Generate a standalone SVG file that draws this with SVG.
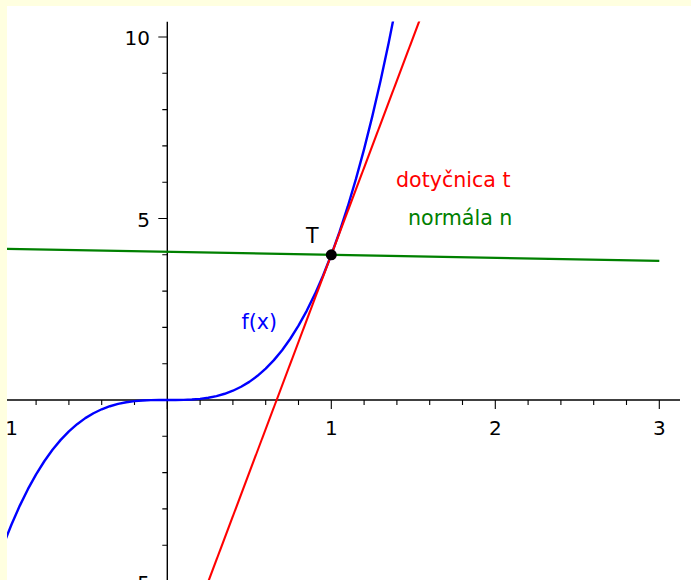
<svg xmlns="http://www.w3.org/2000/svg" width="691" height="580" viewBox="0 0 691 580">
  <style>
    text { font-family: "DejaVu Sans", "Liberation Sans", sans-serif; font-size: 20px; }
    .lbl { font-size: 20.6px; }
    .axis { stroke: #000; stroke-width: 1.4; fill: none; }
    .tick { stroke: #000; stroke-width: 1.1; fill: none; }
    .curve { fill: none; stroke-linejoin: round; stroke-linecap: butt; }
  </style>
  <defs>
    <clipPath id="fig">
      <rect x="7" y="6" width="684" height="574"/>
    </clipPath>
    <clipPath id="data">
      <rect x="7" y="21.5" width="684" height="560"/>
    </clipPath>
  </defs>

  <rect id="page" x="0" y="0" width="691" height="580" fill="#ffffe0"/>
  <rect id="figure" x="7" y="6" width="684" height="574" fill="#ffffff"/>

  <g clip-path="url(#fig)">
    <g id="axes">
      <line class="axis" x1="7" y1="400" x2="680" y2="400"/>
      <line class="axis" x1="167.3" y1="21.7" x2="167.3" y2="580"/>
      <path class="tick" d="M36.1 400v5M68.9 400v5M101.7 400v5M134.5 400v5M200.1 400v5M232.9 400v5M265.7 400v5M298.5 400v5M364.1 400v5M396.9 400v5M429.7 400v5M462.5 400v5M528.1 400v5M560.9 400v5M593.7 400v5M626.5 400v5"/>
      <path class="tick" d="M3.3 400v9M167.3 400v9M331.3 400v9M495.3 400v9M659.3 400v9"/>
      <path class="tick" d="M167.3 73.3h-5M167.3 109.6h-5M167.3 145.9h-5M167.3 182.2h-5M167.3 254.8h-5M167.3 291.1h-5M167.3 327.4h-5M167.3 363.7h-5M167.3 436.3h-5M167.3 472.6h-5M167.3 508.9h-5M167.3 545.2h-5"/>
      <path class="tick" d="M167.3 37h-9M167.3 218.5h-9M167.3 400h-9M167.3 581.5h-9"/>
      <g id="tick-labels">
        <text x="3.3" y="435" text-anchor="middle">−1</text>
        <text x="331.3" y="435" text-anchor="middle">1</text>
        <text x="495.3" y="435" text-anchor="middle">2</text>
        <text x="659.3" y="435" text-anchor="middle">3</text>
        <text x="150" y="45" text-anchor="end">10</text>
        <text x="150" y="226.5" text-anchor="end">5</text>
        <text x="150" y="589.5" text-anchor="end">−5</text>
      </g>
    </g>

    <g id="connectors" clip-path="url(#data)">
      <polyline id="f" class="curve" stroke="#0000ff" stroke-width="2.4" points="3.3,545.2 11.5,524.49 19.7,505.85 27.9,489.17 36.1,474.34 44.3,461.26 52.5,449.8 60.7,439.88 68.9,431.36 77.1,424.16 85.3,418.15 93.5,413.23 101.7,409.29 109.9,406.23 118.1,403.92 126.3,402.27 134.5,401.16 142.7,400.49 150.9,400.15 159.1,400.02 167.3,400 175.5,399.98 183.7,399.85 191.9,399.51 200.1,398.84 208.3,397.73 216.5,396.08 224.7,393.77 232.9,390.71 241.1,386.77 249.3,381.85 257.5,375.84 265.7,368.64 273.9,360.12 282.1,350.2 290.3,338.74 298.5,325.66 306.7,310.83 314.9,294.15 323.1,275.51 331.3,254.8 339.5,231.91 347.7,206.74 355.9,179.17 364.1,149.09 372.3,116.41 380.5,80.99 388.7,42.75 396.9,1.57"/>
      <line id="tangent" class="curve" stroke="#ff0000" stroke-width="2.1" x1="200.1" y1="603.3" x2="429.7" y2="-6.56"/>
      <line id="normal" class="curve" stroke="#008000" stroke-width="2.3" x1="3.3" y1="248.75" x2="659.3" y2="260.85"/>
    </g>

    <g id="point-T">
      <circle cx="331.3" cy="254.8" r="5.5" fill="#000000"/>
      <text class="lbl" x="306" y="243">T</text>
    </g>
    <g id="label-f">
      <text class="lbl" x="241.5" y="329" fill="#0000ff">f(x)</text>
    </g>
    <g id="label-t">
      <text class="lbl" x="396" y="187" fill="#ff0000">dotyčnica t</text>
    </g>
    <g id="label-n">
      <text class="lbl" x="408" y="224.5" fill="#008000">normála n</text>
    </g>
  </g>
</svg>
